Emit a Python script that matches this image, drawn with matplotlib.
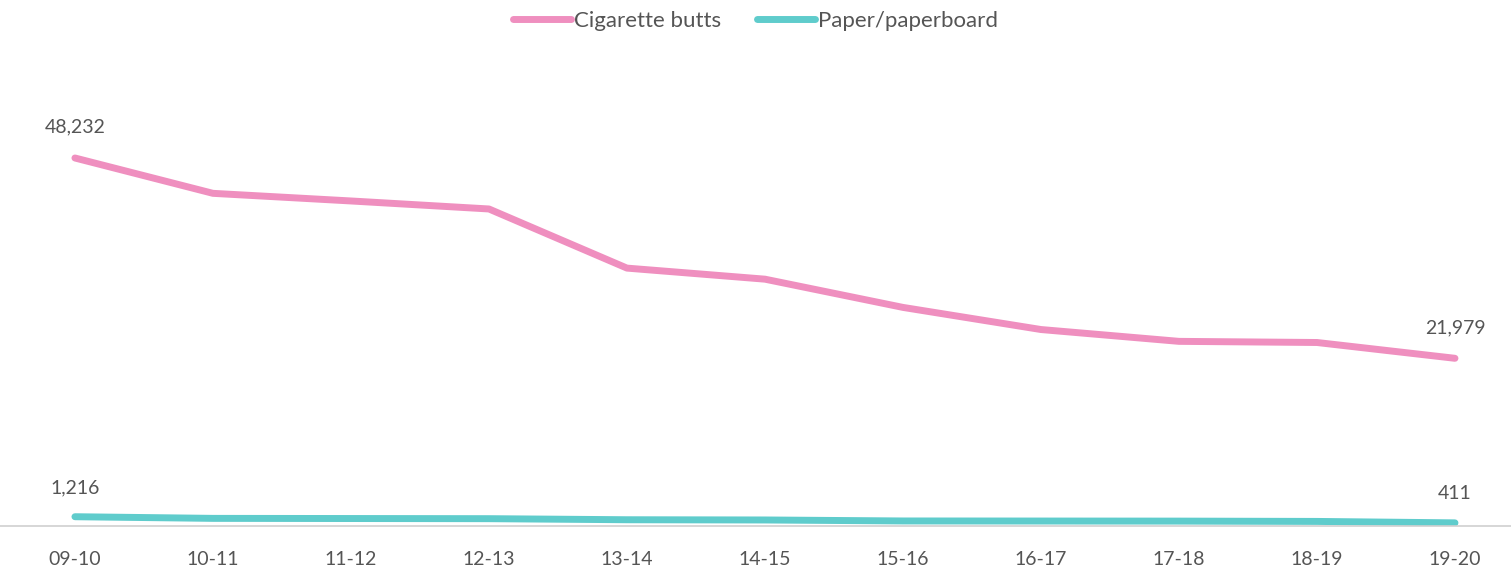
import matplotlib
matplotlib.use('Agg')
import matplotlib.pyplot as plt

years = ['09-10', '10-11', '11-12', '12-13', '13-14', '14-15',
         '15-16', '16-17', '17-18', '18-19', '19-20']
cigarette = [48232, 43600, 42600, 41550, 33800, 32350,
             28650, 25750, 24200, 24050, 21979]
paper = [1216, 1000, 980, 960, 820, 790, 660, 650, 640, 600, 411]

pink = '#ef8fbf'
teal = '#5fcccc'
grey = '#555555'

plt.rcParams.update({
    "font.family": ["Lato", "DejaVu Sans"],
    "font.size": 13,
})

fig = plt.figure(figsize=(15.11, 5.77), dpi=100)
ax = fig.add_axes([0, 51 / 577, 1, (526 - 40) / 577])

x = list(range(len(years)))
ax.plot(x, cigarette, color=pink, linewidth=5, solid_capstyle='round',
        label='Cigarette butts')
ax.plot(x, paper, color=teal, linewidth=5, solid_capstyle='round',
        label='Paper/paperboard')

ax.set_xlim(-0.543, 10.406)
ax.set_ylim(0, 486 / 0.00763)

for spine in ['top', 'right', 'left']:
    ax.spines[spine].set_visible(False)
ax.spines['bottom'].set_color('#d0d0d0')
ax.spines['bottom'].set_linewidth(1.2)
ax.set_yticks([])
ax.set_xticks(x)
ax.set_xticklabels(years, color=grey, fontsize=14)
ax.tick_params(axis='x', length=0, pad=18)

# end-point labels
for series, off in ((cigarette, 16), (paper, 15)):
    for i in (0, len(series) - 1):
        ax.annotate(f'{series[i]:,}', (x[i], series[i]), xytext=(0, off),
                    textcoords='offset points', ha='center', va='bottom',
                    color=grey, fontsize=14)

ax.legend(loc='upper center', bbox_to_anchor=(0.5, 1 + 40 / 486 - 0.004),
          ncol=2, frameon=False, handlelength=2.6, handletextpad=0.15,
          columnspacing=1.6, labelcolor=grey, fontsize=16,
          borderaxespad=0)

fig.savefig('out.png', dpi=100)
